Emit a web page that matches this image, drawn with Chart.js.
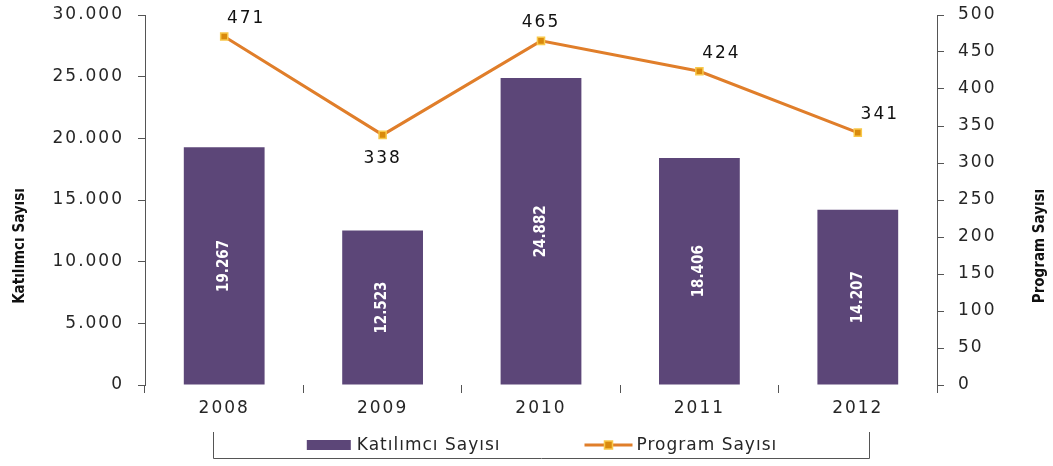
<!DOCTYPE html>
<html>
<head>
<meta charset="UTF-8">
<title>Katılımcı ve Program Sayısı</title>
<script src="https://cdn.jsdelivr.net/npm/chart.js@4.4.0/dist/chart.umd.min.js"></script>
<style>
html, body { margin: 0; padding: 0; background: #fff; }
</style>
</head>
<body>
<canvas id="chart1" width="1053" height="466"></canvas>
<script>
// data
var years = ['2008', '2009', '2010', '2011', '2012'];
var katilimci = [19267, 12523, 24882, 18406, 14207];
var program = [471, 338, 465, 424, 341];

var katilimciLabel = 'Katılımcı Sayısı';
var programLabel = 'Program Sayısı';

// where each line value label sits relative to its point
var programLabelPos = ['ne', 's', 'n', 'ne', 'ne'];

var barColor = '#5C4678';
var lineColor = '#E07E2A';
var textColor = '#262626';
var axisColor = '#555';
var narrowBold = "bold 15px 'Liberation Sans Narrow', 'DejaVu Sans Condensed', sans-serif";
var mainFont = "17px 'DejaVu Sans', sans-serif";

function fmt(v) {
    return String(v).replace(/\B(?=(\d{3})+(?!\d))/g, '.');
}

Chart.defaults.font.family = "'DejaVu Sans', sans-serif";
Chart.defaults.font.size = 17;
Chart.defaults.color = textColor;

var spacing = {
    id: 'spacing',
    beforeUpdate: function (chart) { chart.ctx.letterSpacing = '2px'; },
    beforeDraw: function (chart) { chart.ctx.letterSpacing = '2px'; }
};

var extras = {
    id: 'extras',
    afterDraw: function (chart) {
        var ctx = chart.ctx;
        var area = chart.chartArea;

        // values inside the bars
        var bars = chart.getDatasetMeta(1);
        ctx.save();
        ctx.letterSpacing = '0px';
        ctx.font = narrowBold;
        ctx.fillStyle = '#fff';
        ctx.textAlign = 'center';
        ctx.textBaseline = 'middle';
        bars.data.forEach(function (el, i) {
            ctx.save();
            ctx.translate(el.x, (el.y + el.base) / 2);
            ctx.rotate(-Math.PI / 2);
            ctx.fillText(fmt(katilimci[i]), 0, 0);
            ctx.restore();
        });
        ctx.restore();

        // values on the line
        var pts = chart.getDatasetMeta(0);
        ctx.save();
        ctx.letterSpacing = '2px';
        ctx.font = mainFont;
        ctx.fillStyle = '#111';
        ctx.textAlign = 'center';
        ctx.textBaseline = 'middle';
        pts.data.forEach(function (el, i) {
            var p = programLabelPos[i];
            var dx = p === 'ne' ? 22 : 0;
            var dy = p === 's' ? 24 : -18;
            ctx.fillText(String(program[i]), el.x + dx, el.y + dy);
        });
        ctx.restore();

        // axis titles, both reading upwards
        ctx.save();
        ctx.letterSpacing = '0px';
        ctx.font = narrowBold;
        ctx.fillStyle = '#111';
        ctx.textAlign = 'center';
        ctx.textBaseline = 'middle';
        var midY = (area.top + area.bottom) / 2 + 46;
        ctx.save();
        ctx.translate(20, midY);
        ctx.rotate(-Math.PI / 2);
        ctx.fillText(katilimciLabel, 0, 0);
        ctx.restore();
        ctx.save();
        ctx.translate(chart.width - 13, midY);
        ctx.rotate(-Math.PI / 2);
        ctx.fillText(programLabel, 0, 0);
        ctx.restore();
        ctx.restore();

        // legend with its bracket
        var cx = (area.left + area.right) / 2;
        var bl = cx - 328, br = cx + 328;
        var top = 432, bottom = 458, ly = 445;
        ctx.save();
        ctx.strokeStyle = axisColor;
        ctx.lineWidth = 1;
        ctx.beginPath();
        ctx.moveTo(bl + 0.5, top);
        ctx.lineTo(bl + 0.5, bottom + 0.5);
        ctx.lineTo(br + 0.5, bottom + 0.5);
        ctx.lineTo(br + 0.5, top);
        ctx.stroke();

        ctx.font = mainFont;
        ctx.letterSpacing = '1px';
        ctx.textBaseline = 'middle';
        ctx.textAlign = 'left';
        var symW = 48, gapT = 4, gapItem = 84;
        var w1 = ctx.measureText(katilimciLabel).width;
        var w2 = ctx.measureText(programLabel).width;
        var total = symW + gapT + w1 + gapItem + symW + gapT + w2;
        var x = cx - total / 2;

        ctx.fillStyle = barColor;
        ctx.fillRect(x + 2, ly - 5, symW - 4, 10);
        ctx.fillStyle = textColor;
        ctx.fillText(katilimciLabel, x + symW + gapT, ly + 1);

        x += symW + gapT + w1 + gapItem;
        ctx.strokeStyle = lineColor;
        ctx.lineWidth = 3;
        ctx.beginPath();
        ctx.moveTo(x, ly);
        ctx.lineTo(x + symW, ly);
        ctx.stroke();
        ctx.fillStyle = '#D98A0C';
        ctx.strokeStyle = '#F8C84A';
        ctx.lineWidth = 1.5;
        ctx.fillRect(x + symW / 2 - 4, ly - 4, 8, 8);
        ctx.strokeRect(x + symW / 2 - 4, ly - 4, 8, 8);
        ctx.fillStyle = textColor;
        ctx.fillText(programLabel, x + symW + gapT, ly + 1);
        ctx.restore();
    }
};

function fitY(width) {
    return function (s) {
        s.width = width;
        s.paddingTop = 0;
        s.paddingBottom = 0;
    };
}

var chart1 = new Chart(document.getElementById('chart1'), {
    data: {
        labels: years,
        datasets: [
            {
                type: 'line',
                label: programLabel,
                data: program,
                yAxisID: 'y1',
                borderColor: lineColor,
                borderWidth: 3,
                pointStyle: 'rect',
                pointRadius: 5,
                pointBackgroundColor: '#D98A0C',
                pointBorderColor: '#F8C84A',
                pointBorderWidth: 1.5,
                tension: 0,
                order: 0
            },
            {
                type: 'bar',
                label: katilimciLabel,
                data: katilimci,
                yAxisID: 'y',
                backgroundColor: barColor,
                categoryPercentage: 1,
                barPercentage: 0.51,
                order: 1
            }
        ]
    },
    options: {
        responsive: false,
        animation: false,
        layout: { padding: { top: 15, bottom: 46, left: 0, right: 0 } },
        plugins: {
            legend: { display: false },
            tooltip: { enabled: false }
        },
        scales: {
            x: {
                grid: { offset: true, drawOnChartArea: false, tickLength: 8, color: axisColor },
                border: { display: false },
                ticks: { padding: 5, color: textColor },
                afterFit: function (s) { s.height = 35; }
            },
            y: {
                position: 'left',
                min: 0,
                max: 30000,
                ticks: { stepSize: 5000, padding: 14, color: textColor, callback: fmt },
                grid: { drawOnChartArea: false, tickLength: 7, color: axisColor },
                border: { color: axisColor },
                afterFit: fitY(145)
            },
            y1: {
                position: 'right',
                min: 0,
                max: 500,
                ticks: { stepSize: 50, padding: 14, color: textColor },
                grid: { drawOnChartArea: false, tickLength: 7, color: axisColor },
                border: { color: axisColor },
                afterFit: fitY(116)
            }
        }
    },
    plugins: [spacing, extras]
});
</script>
</body>
</html>
